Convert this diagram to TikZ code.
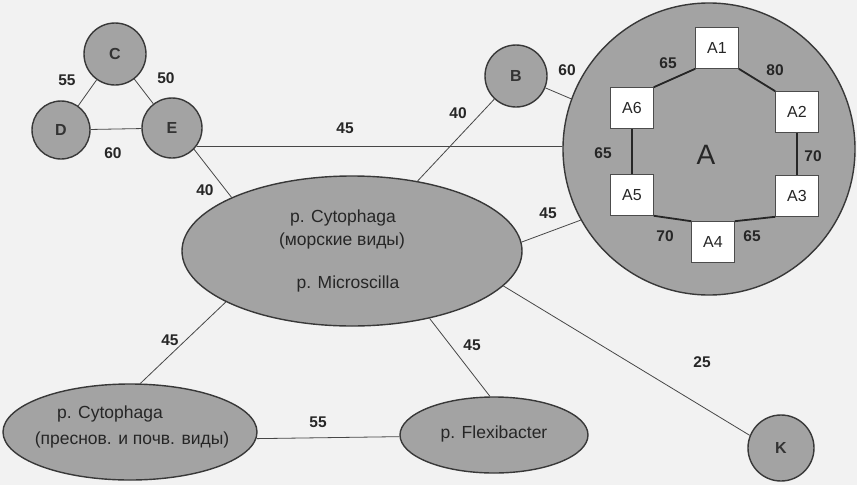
\documentclass[tikz,border=0pt]{standalone}
\usepackage{fontspec}
\setmainfont{Liberation Sans}
\usetikzlibrary{shapes.geometric}

\begin{document}
\begin{tikzpicture}[x=1pt,y=-1pt,
  blob/.style={draw=black!78, line width=1.4pt, fill=black!36},
  sub/.style={circle, blob, inner sep=0pt, font=\fontsize{16}{16}\selectfont\bfseries, text=black!80},
  oval/.style={ellipse, blob, inner sep=0pt},
  otext/.style={inner sep=0pt, font=\fontsize{17.5}{17.5}\selectfont, text=black!85},
  box/.style={draw=black!70, line width=0.6pt, fill=white, minimum width=43pt,
    minimum height=41pt, inner sep=0pt, font=\fontsize{16}{16}\selectfont, text=black!85},
  link/.style={draw=black!72, line width=0.8pt},
  ring/.style={draw=black!85, line width=1.8pt},
  wt/.style={inner sep=0pt, font=\fontsize{15.5}{15.5}\selectfont\bfseries, text=black!85},
  ]
\fill[black!5] (0,0) rectangle (857,485);
\useasboundingbox (0,0) rectangle (857,485);

% small communities
\node[sub, minimum size=62pt] (C) at (115,54) {C};
\node[sub, minimum size=58pt] (D) at (61,130) {D};
\node[sub, minimum size=60pt] (E) at (172,128) {E};
\node[sub, minimum size=62pt] (B) at (516,76) {B};
\node[sub, minimum size=66pt] (K) at (781,448) {K};

% large groups
\node[oval, minimum width=340pt, minimum height=150pt] (M) at (352,251) {};
\node[otext] (m1) at (343,218) {p. Cytophaga};
\node[otext] (m2) at (342,241) {(морские виды)};
\node[otext] (m3) at (348,284) {p. Microscilla};

\node[oval, minimum width=254pt, minimum height=96pt] (F) at (130,432) {};
\node[otext] (f1) at (110,414) {p. Cytophaga};
\node[otext] (f2) at (132,440) {(преснов. и почв. виды)};

\node[oval, minimum width=188pt, minimum height=76pt] (X) at (494,435) {};
\node[otext] (x1) at (494,434) {p. Flexibacter};

% community A with its members
\node[circle, blob, minimum size=292pt] (A) at (709,149) {};
\node[inner sep=0pt, font=\fontsize{28}{28}\selectfont, text=black!85] (Alab) at (706,155) {A};
\node[box] (A1) at (717,48) {A1};
\node[box] (A2) at (797,112) {A2};
\node[box] (A3) at (797,196) {A3};
\node[box] (A4) at (713,242) {A4};
\node[box] (A5) at (632,195) {A5};
\node[box] (A6) at (632,108) {A6};

\draw[ring] (A1.south west) -- (A6.north east);
\draw[ring] (A1.south east) -- (A2.north west);
\draw[ring] (A6.south) -- (A5.north);
\draw[ring] (A2.south) -- (A3.north);
\draw[ring] (A5.south east) -- (A4.north west);
\draw[ring] (A3.south west) -- (A4.north east);

% links between groups
\draw[link] (C) -- (D);
\draw[link] (C) -- (E);
\draw[link] (D) -- (E);
\draw[link] (E.-44) -- (M.156);
\draw[link] (E.-37) -- (A.179);
\draw[link] (B) -- (M);
\draw[link] (B.-22) -- (A.160);
\draw[link] (M.3) -- (A.209);
\draw[link] (M.202) -- (F.78);
\draw[link] (M.-41) -- (X.96);
\draw[link] (M.-13) -- (K.158);
\draw[link] (F.-3) -- (X.181);

% similarity values
\node[wt] (w1) at (67,80) {55};
\node[wt] (w2) at (166,78) {50};
\node[wt] (w3) at (113,153) {60};
\node[wt] (w4) at (205,190) {40};
\node[wt] (w5) at (345,128) {45};
\node[wt] (w6) at (458,113) {40};
\node[wt] (w7) at (567,70) {60};
\node[wt] (w8) at (548,213) {45};
\node[wt] (w9) at (170,340) {45};
\node[wt] (w10) at (318,422) {55};
\node[wt] (w11) at (472,345) {45};
\node[wt] (w12) at (702,362) {25};
\node[wt] (a1) at (668,63) {65};
\node[wt] (a2) at (775,70) {80};
\node[wt] (a3) at (603,153) {65};
\node[wt] (a4) at (813,156) {70};
\node[wt] (a5) at (665,236) {70};
\node[wt] (a6) at (752,236) {65};
\end{tikzpicture}
\end{document}
